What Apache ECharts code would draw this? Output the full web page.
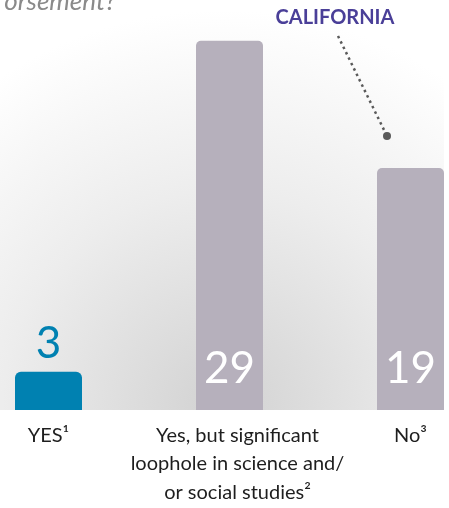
<!DOCTYPE html>
<html>
<head>
<meta charset="utf-8">
<script src="https://cdn.jsdelivr.net/npm/echarts@6/dist/echarts.min.js"></script>
<style>html,body{margin:0;padding:0;background:#fff}#c{width:449px;height:508px}</style>
</head>
<body>
<div id="c"></div>
<script>
const categories = ['YES\u00B9', 'Yes, but significant\nloophole in science and/\nor social studies\u00B2', 'No\u00B3'];
const values = [3, 29, 19];
const titleText = 'orsement?';
const calloutText = 'CALIFORNIA';

const chart = echarts.init(document.getElementById('c'));
const blue = '#0081B1', grey = '#B6B0BC';

const data = values.map((v, i) => {
  const first = i === 0;
  return {
    value: v,
    itemStyle: { color: first ? blue : grey, borderRadius: first ? [6, 6, 0, 0] : [5, 5, 0, 0] },
    label: first
      ? { position: 'top', distance: 6, color: blue }
      : { position: 'insideBottom', distance: 19, color: '#ffffff' }
  };
});

chart.setOption({
  animation: false,
  grid: { left: 48.5, right: 38.5, top: 0, bottom: 98 },
  xAxis: {
    type: 'category',
    boundaryGap: false,
    data: categories.map((c, i) => i === 1 ? { value: c, textStyle: { padding: [0, 0, 0, 16] } } : c),
    axisLine: { show: false },
    axisTick: { show: false },
    axisLabel: {
      interval: 0,
      margin: 11,
      fontFamily: 'Lato',
      fontSize: 20,
      lineHeight: 28.5,
      color: '#1e1e1e'
    }
  },
  yAxis: { type: 'value', min: 0, max: 32.2, show: false, splitLine: { show: false } },
  graphic: [
    {
      type: 'rect', z: -10, silent: true,
      shape: { x: 0, y: 0, width: 444, height: 410 },
      style: {
        fill: new echarts.graphic.RadialGradient(222, 410, 400, [
          { offset: 0, color: '#d2d2d2' },
          { offset: 0.55, color: '#ededed' },
          { offset: 1, color: '#ffffff' }
        ], true)
      }
    },
    {
      type: 'text', z: 10, x: 116, y: 2,
      style: { text: titleText, textAlign: 'right', textVerticalAlign: 'middle', fontFamily: 'Lato', fontStyle: 'italic', fontSize: 26, fill: '#8a8a8a' }
    },
    {
      type: 'text', z: 10, x: 335, y: 18,
      style: { text: calloutText, textAlign: 'center', textVerticalAlign: 'middle', fontFamily: 'Lato', fontWeight: 'bold', fontSize: 20, fill: '#4A3F98' }
    },
    {
      type: 'line', z: 10,
      shape: { x1: 338, y1: 36, x2: 386, y2: 134 },
      style: { stroke: '#5a5a5a', lineWidth: 2.5, lineDash: [2.5, 3.5] }
    },
    {
      type: 'circle', z: 10,
      shape: { cx: 387, cy: 136, r: 4 },
      style: { fill: '#5a5a5a' }
    }
  ],
  series: [{
    type: 'bar',
    barWidth: 67,
    data: data,
    label: { show: true, fontFamily: 'Lato', fontSize: 44, fontWeight: 'normal' }
  }]
});
</script>
</body>
</html>
